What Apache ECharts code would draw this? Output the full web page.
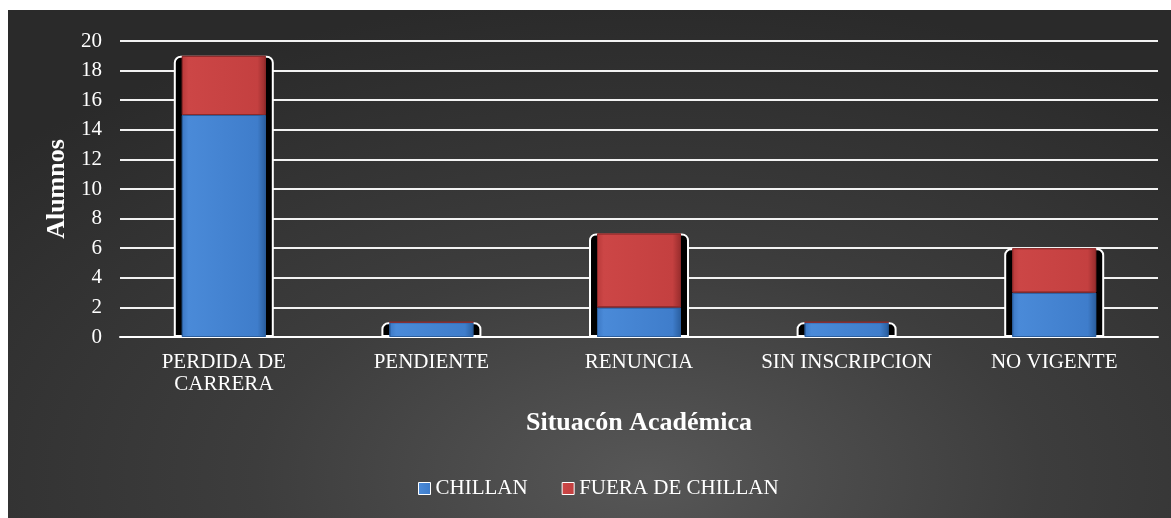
<!DOCTYPE html>
<html>
<head>
<meta charset="utf-8">
<script src="https://cdn.jsdelivr.net/npm/echarts@6/dist/echarts.min.js"></script>
<style>
  html, body { margin: 0; padding: 0; background: #fff; }
  #chart {
    position: absolute; left: 8px; top: 10px; width: 1163px; height: 508px;
    background: radial-gradient(ellipse 75% 95% at 55% 92%, #575757 0%, #3d3d3d 45%, #2a2a2a 100%);
  }
</style>
</head>
<body>
<div id="chart"></div>
<script>
var categories = ['PERDIDA DE\nCARRERA', 'PENDIENTE', 'RENUNCIA', 'SIN INSCRIPCION', 'NO VIGENTE'];
var chillan = [15, 1, 2, 1, 3];
var fuera = [4, 0, 5, 0, 3];
var totals = chillan.map(function (v, i) { return v + fuera[i]; });

var font = '"Liberation Serif", "Times New Roman", serif';

var blue = {
  type: 'linear', x: 0, y: 0, x2: 1, y2: 0,
  colorStops: [
    { offset: 0, color: '#3c78c4' },
    { offset: 0.08, color: '#4a8ad8' },
    { offset: 0.9, color: '#3f7dcb' },
    { offset: 1, color: '#2a5e9e' }
  ]
};
var red = {
  type: 'linear', x: 0, y: 0, x2: 1, y2: 0,
  colorStops: [
    { offset: 0, color: '#b83a3a' },
    { offset: 0.08, color: '#cc4646' },
    { offset: 0.9, color: '#c44040' },
    { offset: 1, color: '#962c2c' }
  ]
};

var chart = echarts.init(document.getElementById('chart'));
var option = {
  backgroundColor: 'transparent',
  textStyle: { fontFamily: font },
  grid: { left: 112, right: 13, top: 31, bottom: 181 },
  legend: {
    data: ['CHILLAN', 'FUERA DE CHILLAN'],
    bottom: 14,
    left: 405,
    itemWidth: 12,
    itemHeight: 12,
    itemGap: 34,
    icon: 'rect',
    itemStyle: { borderColor: '#fff', borderWidth: 1 },
    textStyle: { color: '#fff', fontSize: 21, fontFamily: font }
  },
  xAxis: [{
    type: 'category',
    data: categories,
    name: 'Situacón Académica',
    nameLocation: 'middle',
    nameGap: 73,
    nameTextStyle: { color: '#fff', fontSize: 26, fontWeight: 'bold', fontFamily: font },
    axisLine: { lineStyle: { color: '#fff', width: 2 } },
    axisTick: { show: false },
    axisLabel: { color: '#fff', fontSize: 21, margin: 14, lineHeight: 22, fontFamily: font, interval: 0 }
  }, {
    type: 'category',
    data: categories,
    show: false
  }],
  yAxis: {
    type: 'value',
    min: 0, max: 20, interval: 2,
    name: 'Alumnos',
    nameLocation: 'middle',
    nameGap: 49,
    nameRotate: 90,
    nameTextStyle: { color: '#fff', fontSize: 26, fontWeight: 'bold', fontFamily: font },
    axisLine: { show: false },
    axisTick: { show: false },
    axisLabel: { color: '#fff', fontSize: 21, margin: 18, fontFamily: font },
    splitLine: { lineStyle: { color: '#f2f2f2', width: 2 } }
  },
  series: [{
    name: 'frame',
    type: 'bar',
    xAxisIndex: 1,
    data: totals,
    barWidth: 100,
    z: 1,
    silent: true,
    itemStyle: { color: '#000', borderColor: '#fff', borderWidth: 2, borderRadius: [6, 6, 0, 0] }
  }, {
    name: 'CHILLAN',
    type: 'bar',
    stack: 'total',
    data: chillan,
    barWidth: 84,
    z: 3,
    itemStyle: { color: blue, borderColor: '#2c5f9e', borderWidth: 1 }
  }, {
    name: 'FUERA DE CHILLAN',
    type: 'bar',
    stack: 'total',
    data: fuera,
    barWidth: 84,
    z: 3,
    itemStyle: { color: red, borderColor: '#8e2a2a', borderWidth: 1 }
  }]
};
chart.setOption(option);
</script>
</body>
</html>
